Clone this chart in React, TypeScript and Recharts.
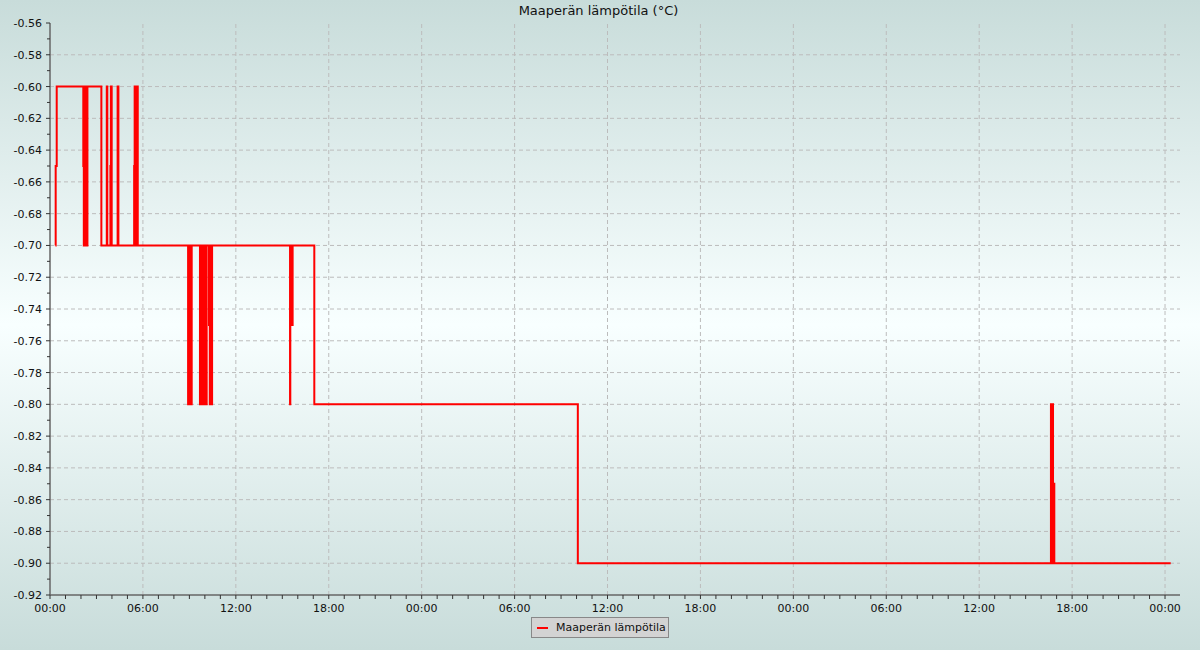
import React from 'react';
import { LineChart, Line, XAxis, YAxis, Legend, ReferenceLine } from 'recharts';

// time in minutes from the first 00:00
const times = [
  21, 22, 26,
  129, 131, 133, 135, 137, 139, 141, 143, 145,
  199, 220, 222, 234, 236, 239, 262, 265,
  326, 328, 331, 333, 336, 338, 340,
  535, 538, 541, 544, 547, 549,
  581, 583, 585, 588,
  593, 596, 599, 602, 605, 607,
  616, 619, 622, 625, 628,
  930, 931, 934, 936, 938, 940,
  1024, 2045,
  3878, 3881, 3883, 3886, 3888, 3891,
  4342,
];
const values = [
  -0.70, -0.65, -0.60,
  -0.65, -0.70, -0.60, -0.70, -0.60, -0.70, -0.60, -0.70, -0.60,
  -0.70, -0.60, -0.70, -0.65, -0.60, -0.70, -0.60, -0.70,
  -0.65, -0.60, -0.70, -0.60, -0.70, -0.60, -0.70,
  -0.80, -0.70, -0.80, -0.70, -0.80, -0.70,
  -0.80, -0.70, -0.80, -0.70,
  -0.80, -0.70, -0.80, -0.70, -0.80, -0.70,
  -0.75, -0.80, -0.70, -0.80, -0.70,
  -0.80, -0.70, -0.75, -0.70, -0.75, -0.70,
  -0.80, -0.90,
  -0.80, -0.90, -0.80, -0.90, -0.85, -0.90,
  -0.90,
];

const xDomain = [0, 4378];
const xMajorTicks = [0, 360, 720, 1080, 1440, 1800, 2160, 2520, 2880, 3240, 3600, 3960, 4320];
const xMajorLabels = ['00:00', '06:00', '12:00', '18:00', '00:00', '06:00', '12:00', '18:00', '00:00', '06:00', '12:00', '18:00', '00:00'];
const xHourTicks = Array.from({ length: 73 }, (_, i) => i * 60);

const yDomain = [-0.92, -0.56];
const yMajorTicks = [-0.92, -0.90, -0.88, -0.86, -0.84, -0.82, -0.80, -0.78, -0.76, -0.74, -0.72, -0.70, -0.68, -0.66, -0.64, -0.62, -0.60, -0.58, -0.56];
const yMinorTicks = [-0.91, -0.89, -0.87, -0.85, -0.83, -0.81, -0.79, -0.77, -0.75, -0.73, -0.71, -0.69, -0.67, -0.65, -0.63, -0.61, -0.59, -0.57];
const yAllTicks = [...yMajorTicks, ...yMinorTicks].sort((a, b) => a - b);

const seriesName = 'Maaperän lämpötila';
const title = 'Maaperän lämpötila (°C)';

const data = times.map((t, i) => ({ t, v: values[i] }));

const FONT = '"DejaVu Sans", Verdana, sans-serif';
const AXIS = '#666666';
const GRID = '#bcbcbc';

const XTick = (props: any) => {
  const { x, y, payload } = props;
  const idx = xMajorTicks.indexOf(payload.value);
  const major = idx >= 0;
  return (
    <g>
      <line x1={x} y1={y} x2={x} y2={y + 4} stroke="#333" strokeWidth={1} />
      {major && (
        <text x={x} y={y + 17} textAnchor="middle" fontSize={11} fontFamily={FONT} fill="#111">
          {xMajorLabels[idx]}
        </text>
      )}
    </g>
  );
};

const YTick = (props: any) => {
  const { x, y, payload } = props;
  const major = Math.round(Math.abs(payload.value) * 100) % 2 === 0;
  return (
    <g>
      <line x1={x - (major ? 4 : 3)} y1={y} x2={x} y2={y} stroke="#333" strokeWidth={1} />
      {major && (
        <text x={x - 8} y={y + 4} textAnchor="end" fontSize={11} fontFamily={FONT} fill="#111">
          {payload.value.toFixed(2)}
        </text>
      )}
    </g>
  );
};

const LegendBox = () => (
  <div style={{ position: 'relative', width: 1200, height: 20 }}>
    <div
      style={{
        position: 'absolute',
        left: 531,
        top: 0,
        width: 136,
        height: 19,
        background: '#d3d3d3',
        border: '1px solid #888',
        fontFamily: FONT,
        fontSize: 11,
        color: '#111',
        display: 'flex',
        alignItems: 'center',
      }}
    >
      <span style={{ display: 'inline-block', width: 11, height: 2, background: '#ff0000', marginLeft: 5, marginRight: 8 }} />
      <span>{seriesName}</span>
    </div>
  </div>
);

export default function App() {
  return (
    <div
      style={{
        position: 'absolute',
        left: 0,
        top: 0,
        width: 1200,
        height: 650,
        background: 'linear-gradient(to bottom, #c8dcda 0%, #f8ffff 50%, #c8dcda 100%)',
        overflow: 'hidden',
      }}
    >
      <div
        style={{
          position: 'absolute',
          top: 3,
          left: 0,
          width: 1197,
          textAlign: 'center',
          fontFamily: FONT,
          fontSize: 13,
          color: '#111',
        }}
      >
        {title}
      </div>
      <LineChart width={1200} height={650} data={data} margin={{ top: 23, right: 20, left: 0, bottom: 13 }}>
        <XAxis
          dataKey="t"
          type="number"
          domain={xDomain}
          ticks={xHourTicks}
          interval={0}
          allowDataOverflow
          tick={<XTick />}
          tickLine={false}
          tickSize={0}
          tickMargin={0}
          axisLine={{ stroke: AXIS, strokeWidth: 1.5 }}
          height={22}
        />
        <XAxis
          xAxisId="top"
          orientation="top"
          dataKey="t"
          type="number"
          domain={xDomain}
          tick={false}
          tickLine={false}
          axisLine={{ stroke: AXIS, strokeWidth: 1.5 }}
          height={0}
        />
        <YAxis
          type="number"
          domain={yDomain}
          ticks={yAllTicks}
          interval={0}
          allowDataOverflow
          tick={<YTick />}
          tickLine={false}
          tickSize={0}
          tickMargin={0}
          axisLine={{ stroke: AXIS, strokeWidth: 1.5 }}
          width={50}
        />
        <YAxis
          yAxisId="right"
          orientation="right"
          type="number"
          domain={yDomain}
          tick={false}
          tickLine={false}
          axisLine={{ stroke: AXIS, strokeWidth: 1.5 }}
          width={0}
        />
        {xMajorTicks.slice(1).map((t) => (
          <ReferenceLine key={'vx' + t} x={t} stroke={GRID} strokeDasharray="4 3" strokeWidth={1} />
        ))}
        {yMajorTicks.slice(1, -1).map((v) => (
          <ReferenceLine key={'hy' + v} y={v} stroke={GRID} strokeDasharray="4 3" strokeWidth={1} />
        ))}
        <Line
          type="stepAfter"
          dataKey="v"
          name={seriesName}
          stroke="#ff0000"
          strokeWidth={2}
          dot={false}
          activeDot={false}
          isAnimationActive={false}
        />
        <Legend verticalAlign="bottom" height={20} wrapperStyle={{ left: 0, width: 1200 }} content={<LegendBox />} />
      </LineChart>
    </div>
  );
}
